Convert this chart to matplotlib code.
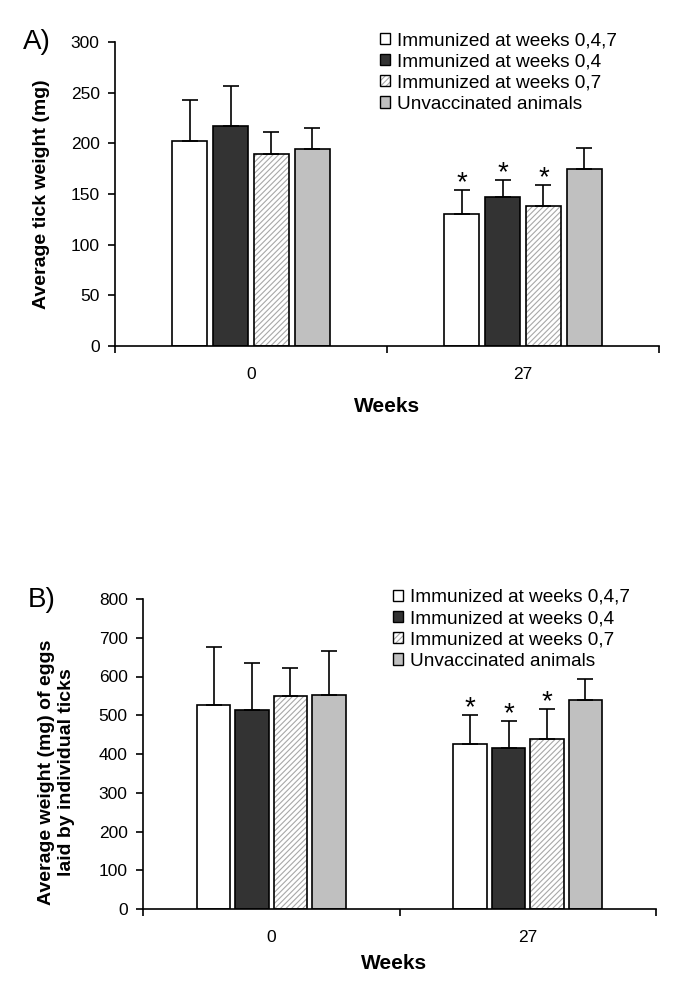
import numpy as np
import matplotlib.pyplot as plt
from matplotlib.patches import Patch

plt.rcParams['font.family'] = ['Liberation Sans', 'DejaVu Sans']
plt.rcParams['hatch.linewidth'] = 0.8

# Data
weeks = ["0", "27"]
groups = ["Immunized at weeks 0,4,7", "Immunized at weeks 0,4",
          "Immunized at weeks 0,7", "Unvaccinated animals"]

tick_mean = np.array([[202, 217, 189, 194],
                      [130, 147, 138, 175]])
tick_err = np.array([[41, 40, 22, 21],
                     [24, 17, 21, 20]])
tick_star = np.array([[0, 0, 0, 0],
                      [1, 1, 1, 0]])

egg_mean = np.array([[526, 513, 550, 553],
                     [426, 416, 440, 540]])
egg_err = np.array([[151, 123, 72, 114],
                    [75, 68, 75, 54]])
egg_star = np.array([[0, 0, 0, 0],
                     [1, 1, 1, 0]])

faces = ["white", "#333333", "white", "#c0c0c0"]
hatches = [None, None, "//////", None]
hatch_col = "#a8a8a8"

W, H = 685, 994
fig = plt.figure(figsize=(W / 100, H / 100), dpi=100)


def px_axes(x0, y0, x1, y1):
    # pixel box (left, top, right, bottom) -> axes
    return fig.add_axes([x0 / W, 1 - y1 / H, (x1 - x0) / W, (y1 - y0) / H])


def draw_panel(ax, means, errs, stars, ymax, ystep, ylabel, ylab_xy, weeks_xy, leg_xy, letter, letter_xy):
    width = 0.13
    step = 0.15
    x = np.arange(len(weeks))
    for i, g in enumerate(groups):
        pos = x + (i - 1.5) * step
        if hatches[i]:
            # grey hatch underneath, black outline on top
            ax.bar(pos, means[:, i], width, color=faces[i], edgecolor=hatch_col,
                   linewidth=0, hatch=hatches[i], zorder=2)
        ax.bar(pos, means[:, i], width, color=faces[i] if not hatches[i] else "none",
               edgecolor="black", linewidth=1.2, zorder=2.1)
        ax.errorbar(pos, means[:, i], yerr=[np.zeros(len(x)), errs[:, i]],
                    fmt="none", ecolor="black", elinewidth=1.2, capsize=6,
                    capthick=1.2, zorder=3)
        for j in range(len(x)):
            if stars[j, i]:
                ax.annotate("*", (pos[j], means[j, i] + errs[j, i]),
                            xytext=(0, 5), textcoords="offset points",
                            ha="center", va="center", fontsize=20)

    ax.set_xlim(-0.5, len(weeks) - 0.5)
    ax.set_ylim(0, ymax)
    ax.set_yticks(np.arange(0, ymax + 1, ystep))
    ax.set_xticks(np.arange(-0.5, len(weeks)), minor=False)
    ax.set_xticklabels([])
    ax.set_xticks(x, minor=True)
    ax.set_xticklabels(weeks, minor=True)
    ax.tick_params(axis="x", which="major", direction="out", length=5, width=1.2)
    ax.tick_params(axis="x", which="minor", length=0, pad=15, labelsize=12.5)
    ax.tick_params(axis="y", direction="out", length=5, width=1.2, pad=6, labelsize=12.5)

    for s in ["top", "right"]:
        ax.spines[s].set_visible(False)
    for s in ["left", "bottom"]:
        ax.spines[s].set_linewidth(1.2)

    ax.set_ylabel(ylabel, fontsize=14, fontweight="bold", linespacing=1.25)
    ax.yaxis.set_label_coords(*ylab_xy)
    ax.text(weeks_xy[0], weeks_xy[1], "Weeks", transform=ax.transAxes,
            ha="center", va="center", fontsize=15, fontweight="bold")

    handles = []
    for i in range(len(groups)):
        if hatches[i]:
            handles.append((Patch(facecolor="white", edgecolor=hatch_col, hatch=hatches[i], linewidth=0),
                            Patch(facecolor="none", edgecolor="black", linewidth=1)))
        else:
            handles.append(Patch(facecolor=faces[i], edgecolor="black", linewidth=1))
    ax.legend(handles, groups, loc="upper left",
              bbox_to_anchor=(leg_xy[0] / W, 1 - leg_xy[1] / H),
              bbox_transform=fig.transFigure, frameon=False, fontsize=13.7,
              handlelength=0.55, handleheight=0.55, handletextpad=0.32,
              labelspacing=0.22, borderpad=0, borderaxespad=0)

    fig.text(letter_xy[0] / W, 1 - letter_xy[1] / H, letter, fontsize=20,
             ha="center", va="center")


axA = px_axes(115, 42, 659, 346)
draw_panel(axA, tick_mean, tick_err, tick_star, 300, 50,
           "Average tick weight (mg)", (-0.12, 0.5), (0.5, -0.2),
           (380, 32), "A)", (37, 42))

axB = px_axes(143, 599, 656, 909)
draw_panel(axB, egg_mean, egg_err, egg_star, 800, 100,
           "Average weight (mg) of eggs\nlaid by individual ticks",
           (-0.132, 0.44), (0.489, -0.177), (393, 589), "B)", (42, 600))

fig.savefig("out.png", dpi=100)
